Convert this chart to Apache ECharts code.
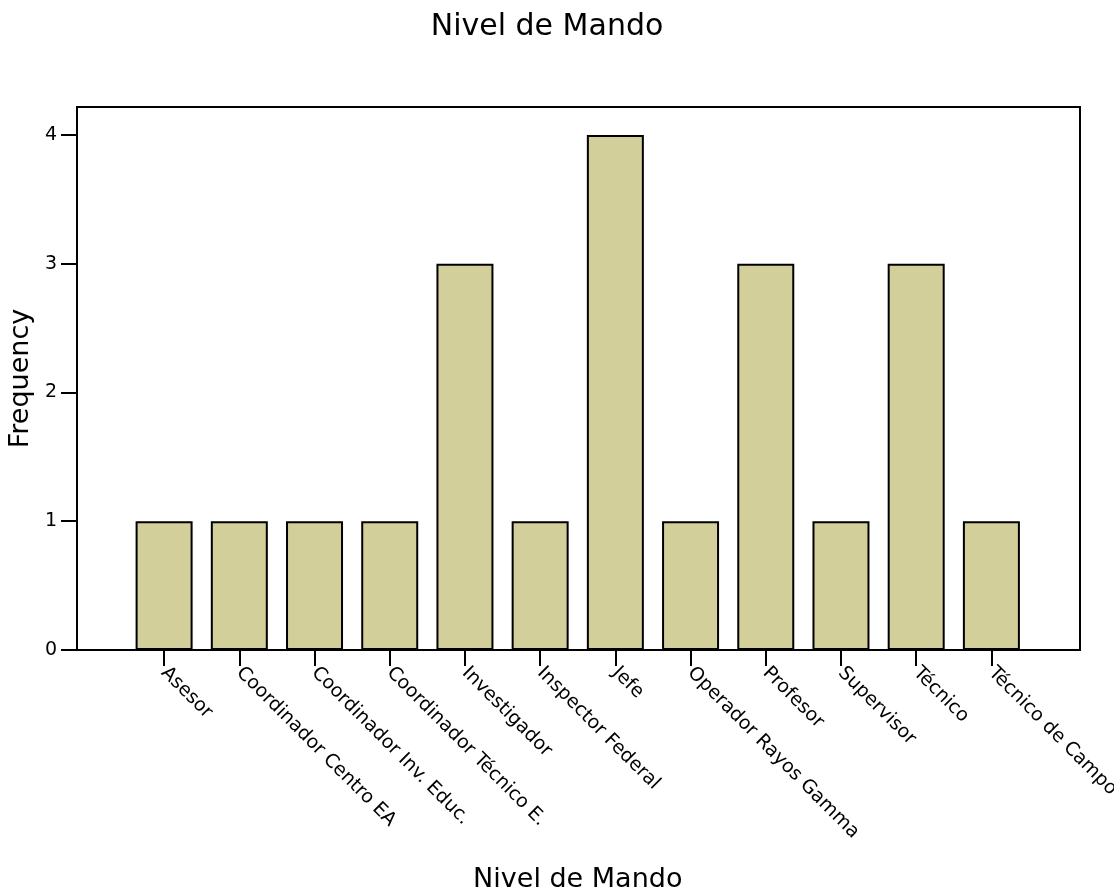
<!DOCTYPE html>
<html>
<head>
<meta charset="utf-8">
<script src="https://cdn.jsdelivr.net/npm/echarts@6/dist/echarts.min.js"></script>
<style>
html,body{margin:0;padding:0;background:#fff;}
#chart{width:1114px;height:894px;}
</style>
</head>
<body>
<div id="chart"></div>
<script>
const chartTitle = 'Nivel de Mando';
const xAxisTitle = 'Nivel de Mando';
const yAxisTitle = 'Frequency';
const categories = ['Asesor','Coordinador Centro EA','Coordinador Inv. Educ.','Coordinador Técnico E.','Investigador','Inspector Federal','Jefe','Operador Rayos Gamma','Profesor','Supervisor','Técnico','Técnico de Campo'];
const frequencies = [1,1,1,1,3,1,4,1,3,1,3,1];
const yTicks = [0,1,2,3,4];

const FONT = '"DejaVu Sans", "Liberation Sans", Arial, sans-serif';
const chart = echarts.init(document.getElementById('chart'));
chart.setOption({
  animation: false,
  backgroundColor: '#fff',
  title: {
    text: chartTitle, left: 542, top: 7, textAlign: 'center',
    textStyle: {fontFamily: FONT, fontSize: 30, fontWeight: 'normal', color: '#000'}
  },
  grid: [
    {left: 77, top: 107, width: 1003, height: 543, show: true, borderColor: '#000', borderWidth: 2, backgroundColor: 'transparent', outerBoundsMode: 'none', containLabel: false},
    {left: 126.5, top: 107, width: 902.5, height: 543, outerBoundsMode: 'none', containLabel: false}
  ],
  xAxis: [
    {gridIndex: 0, type: 'value', min: 0, max: 1, show: false},
    {gridIndex: 1, type: 'category', data: categories,
     axisLine: {show: false},
     axisTick: {show: true, alignWithLabel: true, length: 16, lineStyle: {color: '#000', width: 2}},
     axisLabel: {rotate: -45, margin: 20, interval: 0, color: '#000', fontFamily: FONT, fontSize: 19},
     name: xAxisTitle, nameLocation: 'middle', nameGap: 216,
     nameTextStyle: {fontFamily: FONT, fontSize: 27, color: '#000'}
    }
  ],
  yAxis: [
    {gridIndex: 0, type: 'value', min: 0, max: 1, show: false},
    {gridIndex: 1, type: 'value', min: 0, max: 4.217, interval: 1, offset: 49.5,
     axisLine: {show: true, lineStyle: {color: '#000', width: 2}},
     axisTick: {show: true, length: 16, customValues: yTicks, lineStyle: {color: '#000', width: 2}},
     axisLabel: {color: '#000', fontFamily: FONT, fontSize: 19, margin: 20, customValues: yTicks},
     splitLine: {show: false},
     name: yAxisTitle, nameLocation: 'middle', nameGap: 31, nameRotate: 90,
     nameTextStyle: {fontFamily: FONT, fontSize: 27, color: '#000'}
    }
  ],
  series: [{
    type: 'bar', xAxisIndex: 1, yAxisIndex: 1, data: frequencies, barWidth: 57,
    itemStyle: {color: '#d3cf9a', borderColor: '#000', borderWidth: 2}
  }]
});
</script>
</body>
</html>
